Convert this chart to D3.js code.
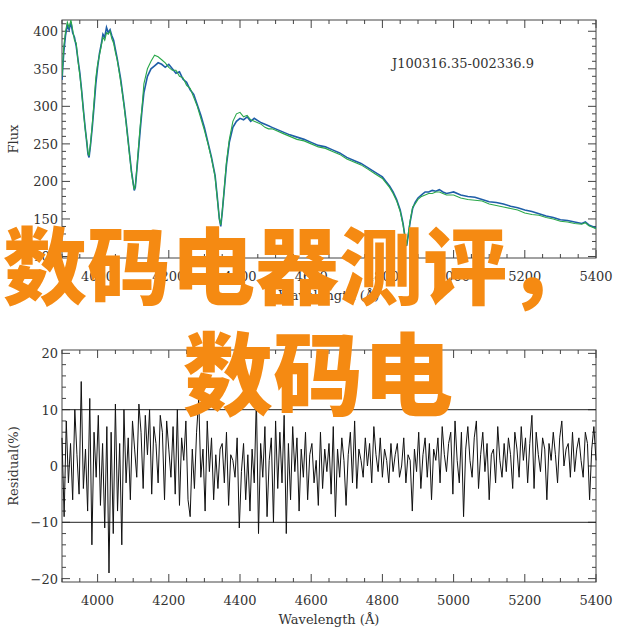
<!DOCTYPE html>
<html><head><meta charset="utf-8">
<script src="https://cdn.jsdelivr.net/npm/d3@7"></script>
<style>body{margin:0;background:#fff}svg{display:block}</style>
</head><body>
<script>
const fluxWave = [3900,3905,3910,3915,3920,3925,3930,3935,3940,3945,3950,3955,3960,3965,3970,3973,3976,3980,3985,3990,3995,4000,4005,4010,4015,4020,4025,4030,4035,4040,4045,4050,4055,4060,4065,4070,4075,4080,4085,4090,4095,4100,4103,4106,4110,4115,4120,4125,4130,4140,4150,4160,4170,4180,4190,4200,4210,4220,4230,4240,4250,4260,4270,4280,4290,4300,4310,4320,4330,4336,4342,4346,4350,4356,4362,4370,4380,4390,4400,4410,4420,4430,4440,4450,4460,4470,4480,4490,4500,4520,4540,4560,4580,4600,4620,4640,4660,4680,4700,4720,4740,4760,4780,4800,4810,4820,4830,4840,4850,4858,4864,4868,4872,4878,4885,4892,4900,4910,4920,4930,4940,4950,4960,4970,4980,4990,5000,5020,5040,5060,5080,5100,5120,5140,5160,5180,5200,5220,5240,5260,5280,5300,5320,5340,5360,5370,5380,5390,5400];
const fluxBlue = [335,372,395,408,402,412,398,392,380,362,345,322,296,272,250,236,232,248,272,300,330,352,370,382,396,392,405,398,402,394,388,376,364,350,336,318,300,280,258,236,214,198,188,192,214,242,270,296,318,340,350,354,358,356,352,356,350,344,346,336,332,322,316,302,288,272,252,232,208,180,150,140,158,190,222,252,272,280,284,282,286,280,284,281,278,276,274,272,270,266,262,259,256,252,248,246,242,238,232,228,224,218,212,206,200,194,186,176,162,144,124,114,126,146,164,172,178,182,186,186,188,187,189,186,184,185,186,182,180,179,176,173,172,170,167,165,162,160,157,154,152,149,148,146,144,146,142,140,138];
const fluxGreen = [340,380,400,412,405,415,402,388,384,360,342,320,294,270,252,238,234,250,276,306,338,356,368,380,392,388,398,396,400,390,384,372,362,348,332,316,298,278,256,234,212,196,189,194,216,246,276,300,330,350,360,368,366,362,358,352,348,348,340,338,328,324,312,300,284,268,250,230,206,178,150,142,160,192,226,256,280,290,292,286,288,282,280,278,276,272,270,270,268,264,260,256,254,250,246,244,240,236,230,226,222,216,210,204,198,192,184,174,160,142,124,115,128,148,166,170,176,180,182,184,184,186,186,184,182,182,182,178,176,175,174,170,168,166,164,162,158,156,155,152,150,147,146,144,143,145,141,139,137];
const residWave = d3.range(3900,5401,6);
const residual = [5,-9,8,-3,4,-6,10,2,-5,15,-4,3,-8,12,-14,6,-2,9,-7,4,-11,7,-19,6,-12,11,-8,4,-14,10,-3,5,-6,8,3,-2,11,6,-4,9,2,10,-5,7,4,-3,9,6,-6,8,3,-2,7,-5,10,-7,5,1,8,-6,-9,3,-4,6,12,-2,3,-8,8,-1,5,-6,2,-4,3,4,-3,6,-7,2,1,-2,5,-11,-1,4,-6,2,-8,3,-3,12,-12,4,-2,7,-9,1,5,-10,8,-4,6,-3,9,-12,4,-6,7,-1,5,-8,3,-2,6,-6,2,4,-3,1,-7,6,-4,3,-1,4,-5,7,-9,3,-2,5,1,-7,2,6,-3,8,-4,3,1,-2,5,0,4,-3,7,2,-1,5,-2,3,1,-3,4,-1,2,4,-2,0,5,-3,2,1,-8,3,-1,6,-4,2,5,-2,4,-6,3,1,5,-3,7,2,-1,4,6,-5,8,1,-3,6,-9,3,7,1,-2,5,8,-4,2,6,-1,4,-6,2,3,-3,7,1,-2,4,-1,5,2,-4,6,3,-2,7,1,5,-3,4,9,-4,6,2,-1,5,3,-6,4,1,6,2,-3,5,8,0,3,4,-2,6,-1,3,5,1,-2,6,4,-6,3,7,1,5,-1,3,6,2,4,-3,5,8,12,3,-4,6,2,-2,4,5];
const fluxTicks = [100,150,200,250,300,350,400];
const residTicks = [-20,-10,0,10,20];
const waveTicks = [4000,4200,4400,4600,4800,5000,5200,5400];
const objName = "J100316.35-002336.9";
const overlay1 = "数码电器测评，";
const overlay2 = "数码电";

const W=634,H=631;
const svg=d3.select("body").append("svg").attr("width",W).attr("height",H);
const L=62,R=596;
const x=d3.scaleLinear().domain([3900,5400]).range([L,R]);
const font="'DejaVu Serif', serif";

function panel(top,bottom,yDom,yTicks,yLabel,minorStep){
  const y=d3.scaleLinear().domain(yDom).range([bottom,top]);
  const g=svg.append("g");
  g.append("rect").attr("x",L).attr("y",top).attr("width",R-L).attr("height",bottom-top).attr("fill","none").attr("stroke","#444");
  const minorY=d3.range(Math.ceil(yDom[0]/minorStep)*minorStep,yDom[1]+0.001,minorStep);
  minorY.forEach(v=>{const big=yTicks.includes(v);const len=big?8:4;
    g.append("line").attr("x1",L).attr("x2",L+len).attr("y1",y(v)).attr("y2",y(v)).attr("stroke","#444");
    g.append("line").attr("x1",R).attr("x2",R-len).attr("y1",y(v)).attr("y2",y(v)).attr("stroke","#444");});
  yTicks.forEach(v=>{ if(y(v)<top-2||y(v)>bottom+2) return;
    g.append("text").attr("x",L-4).attr("y",y(v)+5).attr("text-anchor","end").attr("font-family",font).attr("font-size",13).attr("fill","#333").text(v<0?"−"+(-v):v);});
  d3.range(3900,5401,50).forEach(v=>{const big=v%200===0;const len=big?8:4;
    g.append("line").attr("x1",x(v)).attr("x2",x(v)).attr("y1",bottom).attr("y2",bottom-len).attr("stroke","#444");
    g.append("line").attr("x1",x(v)).attr("x2",x(v)).attr("y1",top).attr("y2",top+len).attr("stroke","#444");});
  waveTicks.forEach(v=>g.append("text").attr("x",x(v)).attr("y",bottom+23).attr("text-anchor","middle").attr("font-family",font).attr("font-size",13).attr("fill","#333").text(v));
  g.append("text").attr("x",x(4650)).attr("y",bottom+42).attr("text-anchor","middle").attr("font-family",font).attr("font-size",13).attr("fill","#333").text("Wavelength (Å)");
  g.append("text").attr("transform",`translate(18,${(top+bottom)/2}) rotate(-90)`).attr("text-anchor","middle").attr("font-family",font).attr("font-size",13).attr("fill","#333").text(yLabel);
  return y;
}
const yF=panel(20,258,[98,415],fluxTicks,"Flux",10);
svg.append("clipPath").attr("id","c1").append("rect").attr("x",L).attr("y",20).attr("width",R-L).attr("height",238);
const lf=d3.line().x((d,i)=>x(fluxWave[i])).y(d=>yF(d));
svg.append("path").attr("clip-path","url(#c1)").datum(fluxBlue).attr("d",lf).attr("fill","none").attr("stroke","#1f5ea8").attr("stroke-width",1.6);
svg.append("path").attr("clip-path","url(#c1)").datum(fluxGreen).attr("d",lf).attr("fill","none").attr("stroke","#2aa84a").attr("stroke-width",1.1);
svg.append("text").attr("x",463).attr("y",68).attr("text-anchor","middle").attr("font-family",font).attr("font-size",13).attr("fill","#333").text(objName);

const yR=panel(350,582,[-20.6,20.6],residTicks,"Residual(%)",2);
[10,-10].forEach(v=>svg.append("line").attr("x1",L).attr("x2",R).attr("y1",yR(v)).attr("y2",yR(v)).attr("stroke","#222"));
const lr=d3.line().x((d,i)=>x(residWave[i])).y(d=>yR(d));
svg.append("path").datum(residual.slice(0,residWave.length)).attr("d",lr).attr("fill","none").attr("stroke","#111").attr("stroke-width",1);

const of="'Noto Sans CJK SC', sans-serif";
svg.append("text").attr("x",3).attr("y",298).attr("font-family",of).attr("font-weight",900).attr("font-size",84).attr("fill","#f58a12").text(overlay1);
svg.append("text").attr("x",183).attr("y",408).attr("font-family",of).attr("font-weight",900).attr("font-size",90).attr("fill","#f58a12").text(overlay2);
</script>
</body></html>
